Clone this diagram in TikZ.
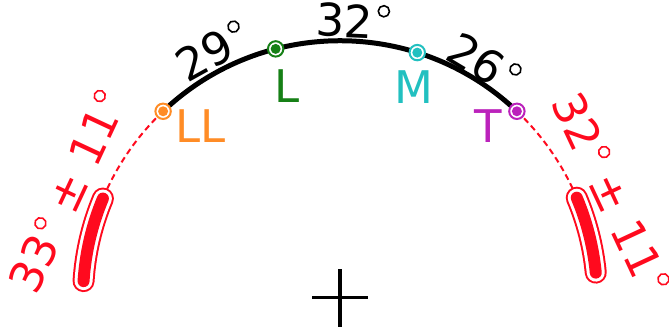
\documentclass[tikz,border=0pt]{standalone}
\usepackage{fontspec}
\setmainfont{DejaVu Sans}
\newcommand\dg{\kern4pt\tikz[baseline=-27.5pt]\draw[line width=1.6pt] (0pt,0pt) circle[radius=5.6pt];}
\definecolor{cLL}{HTML}{FF8C26}
\definecolor{cL}{HTML}{168016}
\definecolor{cM}{HTML}{22C0C0}
\definecolor{cT}{HTML}{BB22BB}
\definecolor{cR}{HTML}{FF0A1E}
\begin{document}
\begin{tikzpicture}[x=1pt,y=1pt,
  lbl/.style={font=\fontsize{45pt}{45pt}\selectfont, inner sep=0pt},
  ring/.style={circle, draw=#1, line width=2pt, fill=white, minimum size=15.4pt, inner sep=0pt},
  dashedarc/.style={cR, line width=2pt, dash pattern=on 6pt off 4pt},
  barout/.style={cR, line width=22pt, line cap=round},
  barmid/.style={white, line width=18pt, line cap=round},
  barin/.style={cR, line width=12pt, line cap=round}]
\useasboundingbox (-340,-35.3) rectangle (329,297.7);
\def\R{257}
% centre cross
\coordinate (c) at (0,0);
\draw[line width=3.5pt] ([xshift=-28pt]c) -- ([xshift=28pt]c);
\draw[line width=3.5pt] ([yshift=-29pt]c) -- ([yshift=29pt]c);
% point positions
\coordinate (pLL) at (133.5:\R);
\coordinate (pL) at (104.5:\R);
\coordinate (pM) at (72.5:\R);
\coordinate (pT) at (46.5:\R);
\coordinate (bLa) at (157.3:\R);
\coordinate (bTa) at (22.9:\R);
% dashed extensions
\draw[dashedarc] (pLL) arc[start angle=133.5, end angle=157.3, radius=\R];
\draw[dashedarc] (pT) arc[start angle=46.5, end angle=22.9, radius=\R];
% error bars
\foreach \s in {barout,barmid,barin}{
  \draw[\s] (bLa) arc[start angle=157.3, end angle=176.3, radius=\R];
  \draw[\s] (bTa) arc[start angle=22.9, end angle=5.6, radius=\R];
}
% main arc
\draw[line width=5pt] (pLL) arc[start angle=133.5, end angle=46.5, radius=\R];
% markers
\node[ring=cLL] (LL) at (pLL) {};
\node[ring=cL] (L) at (pL) {};
\node[ring=cM] (M) at (pM) {};
\node[ring=cT] (T) at (pT) {};
\fill[cLL] (LL.center) circle[radius=5pt];
\fill[cL] (L.center) circle[radius=5pt];
\fill[cM] (M.center) circle[radius=5pt];
\fill[cT] (T.center) circle[radius=5pt];
% point labels
\node[lbl, text=cLL] (tLL) at (-139,171.7) {LL};
\node[lbl, text=cL] (tL) at (-53,211.2) {L};
\node[lbl, text=cM] (tM) at (74,210.2) {M};
\node[lbl, text=cT] (tT) at (148.3,171.7) {T};
% angle labels
\node[lbl, rotate=29] (a1) at (-128,246.7) {29\dg};
\node[lbl, rotate=-2.5] (a2) at (12.8,276.9) {32\dg};
\node[lbl, rotate=-31] (a3) at (143.6,234.7) {26\dg};
% error labels
\node[lbl, text=cR, rotate=65] (e1) at (-273,105.7) {33\dg{} ± 11\dg};
\node[lbl, text=cR, rotate=-65] (e2) at (271,105.2) {32\dg{} ± 11\dg};
\end{tikzpicture}
\end{document}
